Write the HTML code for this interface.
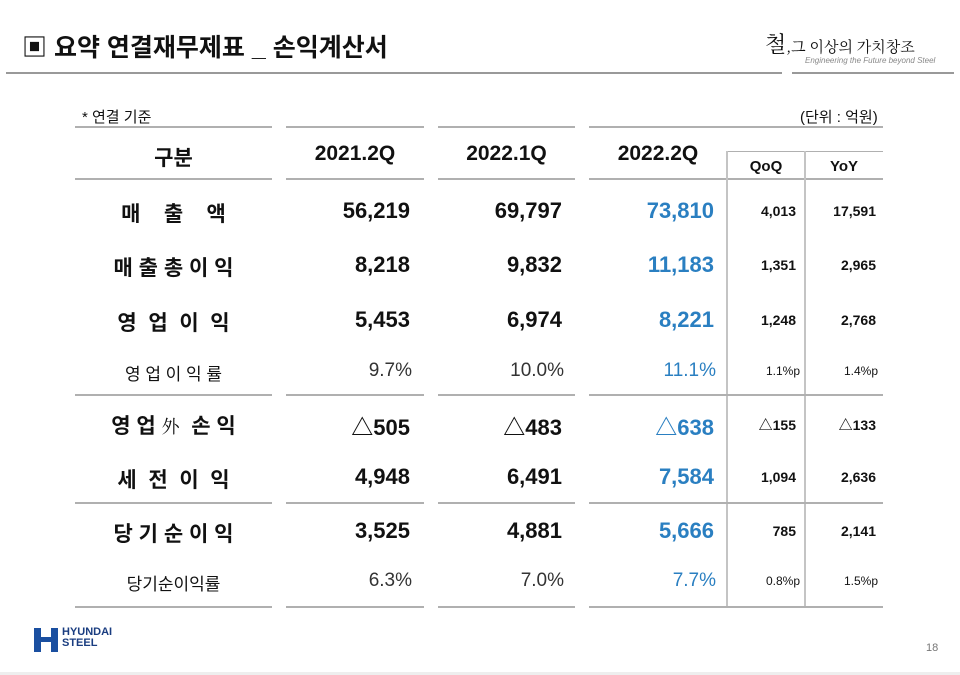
<!DOCTYPE html>
<html><head><meta charset="utf-8"><style>
body{margin:0;width:960px;height:675px;background:#fff;position:relative;overflow:hidden;font-family:"Liberation Sans","Noto Sans CJK KR",sans-serif;color:#111}
.a{position:absolute;white-space:nowrap}
.h{position:absolute;height:2px;background:#b0b0b0}
.v{position:absolute;width:2px;background:#c4c4c4}
.lab{position:absolute;left:75px;width:197px;text-align:center;font-weight:bold;font-size:21px;letter-spacing:0}
.n{position:absolute;text-align:right;font-weight:bold;font-size:22px}
.b{color:#2a7fc1}
.s{font-weight:normal;font-size:19px;color:#333}
.q{position:absolute;text-align:right;font-weight:bold;font-size:14px}
</style></head><body>
<div class="a" style="left:22px;top:28px;font-size:25px;font-weight:bold">▣ 요약 연결재무제표 _ 손익계산서</div>
<div class="a" style="left:765px;top:28px;font-size:22px;font-family:'Noto Serif CJK SC',serif">철<span style="font-size:15px">,그 이상의 가치창조</span></div>
<div class="a" style="left:805px;top:56px;font-size:8px;font-style:italic;color:#888">Engineering the Future beyond Steel</div>
<div class="h" style="left:6px;top:72px;width:776px;background:#999"></div>
<div class="h" style="left:792px;top:72px;width:162px;background:#999"></div>
<div class="a" style="left:82px;top:106px;font-size:15px">* 연결 기준</div>
<div class="a" style="left:800px;top:106px;font-size:15px">(단위 : 억원)</div>
<div class="h" style="left:75px;top:126px;width:197px"></div>
<div class="h" style="left:286px;top:126px;width:138px"></div>
<div class="h" style="left:438px;top:126px;width:137px"></div>
<div class="h" style="left:589px;top:126px;width:294px"></div>
<div class="h" style="left:727px;top:151px;width:156px;height:1px"></div>
<div class="a" style="left:75px;width:197px;text-align:center;top:142px;font-size:21px;font-weight:bold">구분</div>
<div class="a" style="left:286px;width:138px;text-align:center;top:142px;font-size:21px;font-weight:bold">2021.2Q</div>
<div class="a" style="left:438px;width:137px;text-align:center;top:142px;font-size:21px;font-weight:bold">2022.1Q</div>
<div class="a" style="left:589px;width:138px;text-align:center;top:142px;font-size:21px;font-weight:bold">2022.2Q</div>
<div class="a" style="left:727px;width:78px;text-align:center;top:158px;font-size:15px;font-weight:bold">QoQ</div>
<div class="a" style="left:805px;width:78px;text-align:center;top:158px;font-size:15px;font-weight:bold">YoY</div>
<div class="h" style="left:75px;top:178px;width:197px"></div>
<div class="h" style="left:286px;top:178px;width:138px"></div>
<div class="h" style="left:438px;top:178px;width:137px"></div>
<div class="h" style="left:589px;top:178px;width:294px"></div>
<div class="v" style="left:726px;top:151px;height:456px"></div>
<div class="v" style="left:804px;top:151px;height:456px"></div>
<div class="h" style="left:75px;top:394px;width:197px"></div>
<div class="h" style="left:286px;top:394px;width:138px"></div>
<div class="h" style="left:438px;top:394px;width:137px"></div>
<div class="h" style="left:589px;top:394px;width:294px"></div>
<div class="h" style="left:75px;top:502px;width:197px"></div>
<div class="h" style="left:286px;top:502px;width:138px"></div>
<div class="h" style="left:438px;top:502px;width:137px"></div>
<div class="h" style="left:589px;top:502px;width:294px"></div>
<div class="h" style="left:75px;top:606px;width:197px"></div>
<div class="h" style="left:286px;top:606px;width:138px"></div>
<div class="h" style="left:438px;top:606px;width:137px"></div>
<div class="h" style="left:589px;top:606px;width:294px"></div>

<div class="lab" style="top:198px">매&nbsp;&nbsp;&nbsp;&nbsp;출&nbsp;&nbsp;&nbsp;&nbsp;액</div>
<div class="lab" style="top:252px">매 출 총 이 익</div>
<div class="lab" style="top:307px">영&nbsp; 업&nbsp; 이&nbsp; 익</div>
<div class="lab" style="top:360px;font-weight:normal;font-size:17px">영 업 이 익 률</div>
<div class="lab" style="top:410px">영 업 <span style="font-weight:normal;font-family:'Noto Serif CJK SC',serif;font-size:18px">外</span>&nbsp; 손 익</div>
<div class="lab" style="top:464px">세&nbsp; 전&nbsp; 이&nbsp; 익</div>
<div class="lab" style="top:518px">당 기 순 이 익</div>
<div class="lab" style="top:570px;font-weight:normal;font-size:17px">당기순이익률</div>

<div class="n" style="right:550px;top:198px">56,219</div>
<div class="n" style="right:398px;top:198px">69,797</div>
<div class="n b" style="right:246px;top:198px">73,810</div>
<div class="q" style="right:164px;top:203px">4,013</div>
<div class="q" style="right:84px;top:203px">17,591</div>

<div class="n" style="right:550px;top:252px">8,218</div>
<div class="n" style="right:398px;top:252px">9,832</div>
<div class="n b" style="right:246px;top:252px">11,183</div>
<div class="q" style="right:164px;top:257px">1,351</div>
<div class="q" style="right:84px;top:257px">2,965</div>

<div class="n" style="right:550px;top:307px">5,453</div>
<div class="n" style="right:398px;top:307px">6,974</div>
<div class="n b" style="right:246px;top:307px">8,221</div>
<div class="q" style="right:164px;top:312px">1,248</div>
<div class="q" style="right:84px;top:312px">2,768</div>

<div class="n s" style="right:548px;top:360px">9.7%</div>
<div class="n s" style="right:396px;top:360px">10.0%</div>
<div class="n s b" style="right:244px;top:360px;color:#2a7fc1">11.1%</div>
<div class="q" style="right:160px;top:364px;font-weight:normal;font-size:12px">1.1%p</div>
<div class="q" style="right:82px;top:364px;font-weight:normal;font-size:12px">1.4%p</div>

<div class="n" style="right:550px;top:410px">△505</div>
<div class="n" style="right:398px;top:410px">△483</div>
<div class="n b" style="right:246px;top:410px">△638</div>
<div class="q" style="right:164px;top:415px">△155</div>
<div class="q" style="right:84px;top:415px">△133</div>

<div class="n" style="right:550px;top:464px">4,948</div>
<div class="n" style="right:398px;top:464px">6,491</div>
<div class="n b" style="right:246px;top:464px">7,584</div>
<div class="q" style="right:164px;top:469px">1,094</div>
<div class="q" style="right:84px;top:469px">2,636</div>

<div class="n" style="right:550px;top:518px">3,525</div>
<div class="n" style="right:398px;top:518px">4,881</div>
<div class="n b" style="right:246px;top:518px">5,666</div>
<div class="q" style="right:164px;top:523px">785</div>
<div class="q" style="right:84px;top:523px">2,141</div>

<div class="n s" style="right:548px;top:570px">6.3%</div>
<div class="n s" style="right:396px;top:570px">7.0%</div>
<div class="n s b" style="right:244px;top:570px;color:#2a7fc1">7.7%</div>
<div class="q" style="right:160px;top:574px;font-weight:normal;font-size:12px">0.8%p</div>
<div class="q" style="right:82px;top:574px;font-weight:normal;font-size:12px">1.5%p</div>

<svg class="a" style="left:34px;top:628px" width="24" height="24"><path d="M0 0h7v9h10V0h7v24h-7V14H7v10H0z" fill="#1a4fa0"/></svg>
<div class="a" style="left:62px;top:627px;font-size:11px;font-weight:bold;color:#1a3d80;line-height:11px">HYUNDAI<br>STEEL</div>
<div class="a" style="left:926px;top:642px;font-size:11px;color:#777">18</div>
<div class="h" style="left:0;top:672px;width:960px;height:3px;background:#eee"></div>
</body></html>
